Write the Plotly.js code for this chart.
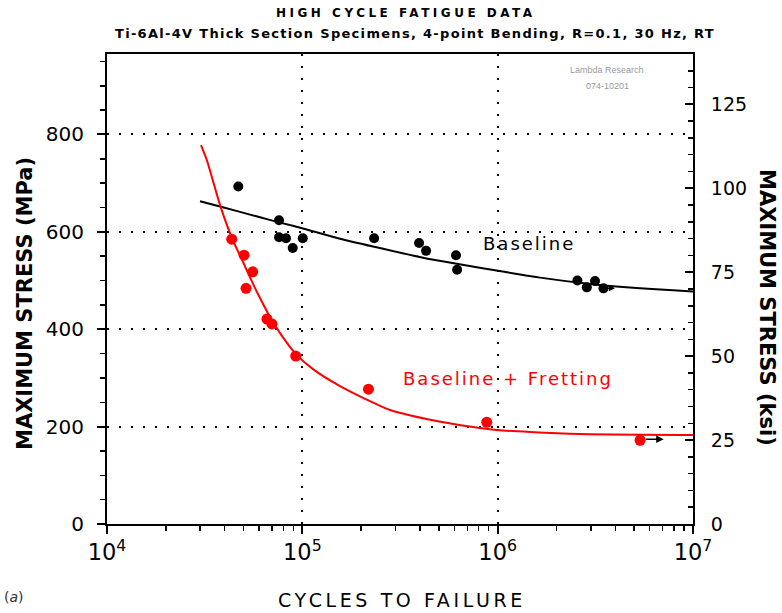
<!DOCTYPE html>
<html>
<head>
<meta charset="utf-8">
<script src="https://cdn.plot.ly/plotly-3.0.1.min.js"></script>
<style>
  body { margin: 0; padding: 0; background: #fff; }
  #chart { width: 782px; height: 613px; }
</style>
</head>
<body>
<div id="chart"></div>
<script>
// ---- Data ----
// Baseline specimens (cycles, max stress MPa)
const baselineCycles = [47000, 76000, 76000, 82500, 89300, 100500, 233000, 396000, 430000, 612000, 620000, 2560000, 2860000, 3150000, 3480000];
const baselineStress = [693, 624, 589, 587, 567, 587, 587, 577, 561, 552, 522, 500, 486, 499, 484];

// Baseline + Fretting specimens
const frettingCycles = [43500, 50300, 51500, 55700, 65900, 69900, 92500, 218000, 879000, 5360000];
const frettingStress = [585, 552, 484, 518, 421, 411, 345, 277, 209, 172];

// Fitted curves
const baselineFitCycles = [29940, 37900, 60730, 76880, 100800, 156000, 230100, 415000, 1005000, 1649000, 2973000, 5358000, 7909000, 10000000];
const baselineFitStress = [663, 652, 630, 619, 607, 586, 570, 547, 520, 506, 493, 484, 480, 477.5];

const frettingFitCycles = [30290, 32520, 37900, 43650, 49700, 55930, 60730, 68320, 76880, 91760, 113400, 156000, 209400, 281200, 450800, 748200, 993000, 1465000, 2642000, 10000000];
const frettingFitStress = [778, 746, 655, 587, 538, 493, 464, 425, 392, 351, 318, 283, 257, 234, 214, 199, 193, 189, 185, 183];

// Axis ranges / ticks
const xRangeExp = [4, 7];
const mpaMax = 965.27;      // 140 ksi
const ksiMax = 140;

const titleLine1 = 'HIGH CYCLE FATIGUE DATA';
const titleLine2 = 'Ti-6Al-4V Thick Section Specimens, 4-point Bending, R=0.1, 30 Hz, RT';

const traces = [
  {
    x: baselineFitCycles, y: baselineFitStress, mode: 'lines', type: 'scatter',
    line: { color: '#000000', width: 2, shape: 'spline', smoothing: 0.6 }, hoverinfo: 'skip'
  },
  {
    x: frettingFitCycles, y: frettingFitStress, mode: 'lines', type: 'scatter',
    line: { color: '#ff0000', width: 2, shape: 'spline', smoothing: 0.6 }, hoverinfo: 'skip'
  },
  {
    x: baselineCycles, y: baselineStress, mode: 'markers', type: 'scatter',
    marker: { color: '#000000', size: 10 }
  },
  {
    x: frettingCycles, y: frettingStress, mode: 'markers', type: 'scatter',
    marker: { color: '#ff0000', size: 11 }
  },
  // empty trace so the ksi axis is drawn
  { x: [], y: [], type: 'scatter', mode: 'markers', yaxis: 'y2', hoverinfo: 'skip' }
];

const tickFont = { family: 'DejaVu Sans, Arial, sans-serif', size: 20, color: '#000' };
const axisCommon = {
  showline: true, linewidth: 2, linecolor: '#000',
  ticks: 'outside', ticklen: 8, tickwidth: 2, tickcolor: '#000',
  tickfont: tickFont, zeroline: false
};

const ann = (o) => Object.assign({ xref: 'paper', yref: 'paper', xanchor: 'center', yanchor: 'middle', showarrow: false }, o);

const layout = {
  width: 782, height: 613,
  margin: { l: 107, r: 89, t: 54, b: 89, pad: 0 },
  paper_bgcolor: '#ffffff', plot_bgcolor: '#ffffff',
  showlegend: false,
  font: { family: 'Liberation Sans, Arial, sans-serif', color: '#000' },
  xaxis: Object.assign({}, axisCommon, {
    type: 'log', range: xRangeExp, dtick: 1, exponentformat: 'power',
    mirror: true,
    tickfont: { family: 'DejaVu Sans, Arial, sans-serif', size: 18, color: '#000' },
    showgrid: true, gridcolor: '#000', gridwidth: 2, griddash: '2px,10px',
    minor: { dtick: 'D1', ticks: 'outside', ticklen: 5, tickwidth: 1.5, tickcolor: '#000', showgrid: false }
  }),
  yaxis: Object.assign({}, axisCommon, {
    range: [0, mpaMax], dtick: 200, tick0: 0, ticklabelstandoff: 9,
    showgrid: true, gridcolor: '#000', gridwidth: 2, griddash: '2px,10px',
    minor: { dtick: 50, ticks: 'outside', ticklen: 5, tickwidth: 1.5, tickcolor: '#000', showgrid: false }
  }),
  yaxis2: Object.assign({}, axisCommon, {
    overlaying: 'y', side: 'right', range: [0, ksiMax], dtick: 25, tick0: 0,
    ticks: 'inside', ticklabelstandoff: 12,
    tickfont: { family: 'DejaVu Sans, Arial, sans-serif', size: 19, color: '#000' },
    showgrid: false,
    minor: { dtick: 5, ticks: 'inside', ticklen: 5, tickwidth: 1.5, tickcolor: '#000', showgrid: false }
  }),
  annotations: [
    ann({ text: '<span style="letter-spacing:3.5px">' + titleLine1 + '</span>', x: 0.51, y: (524 - 13) / 470,
      font: { family: 'DejaVu Sans, Arial', size: 12, weight: 'bold', color: '#000' } }),
    ann({ text: '<span style="letter-spacing:1.3px">' + titleLine2 + '</span>', x: 0.525, y: (524 - 34) / 470,
      font: { family: 'DejaVu Sans, Arial', size: 13, weight: 'bold', color: '#000' } }),
    ann({ text: 'Lambda Research', x: (607 - 107) / 586, y: (524 - 70) / 470,
      font: { family: 'Liberation Sans, Arial', size: 9, color: '#9a9a9a' } }),
    ann({ text: '074-10201', x: (607 - 107) / 586, y: (524 - 86) / 470,
      font: { family: 'Liberation Sans, Arial', size: 9, color: '#9a9a9a' } }),
    ann({ text: '<span style="letter-spacing:2px">Baseline</span>', xref: 'x', yref: 'y', x: 6.161, y: 577,
      font: { family: 'DejaVu Sans, Arial', size: 18, color: '#000' } }),
    ann({ text: '<span style="letter-spacing:2px">Baseline + Fretting</span>', xref: 'x', yref: 'y', x: 6.053, y: 298,
      font: { family: 'DejaVu Sans, Arial', size: 18, color: '#ff0000' } }),
    ann({ text: 'MAXIMUM STRESS (MPa)', x: (25 - 107) / 586, y: (524 - 304) / 470, textangle: -90,
      font: { family: 'DejaVu Sans, Arial', size: 21, weight: 'bold', color: '#000' } }),
    ann({ text: 'MAXIMUM STRESS (ksi)', x: (767 - 107) / 586, y: (524 - 307) / 470, textangle: 90,
      font: { family: 'DejaVu Sans, Arial', size: 21, weight: 'bold', color: '#000' } }),
    ann({ text: '<span style="letter-spacing:3.6px">CYCLES TO FAILURE</span>', x: (402 - 107) / 586, y: (524 - 600) / 470,
      font: { family: 'DejaVu Sans, Arial', size: 19, color: '#000' } }),
    ann({ text: '(<span style="font-style:italic">a</span>)', x: (14 - 107) / 586, y: (524 - 597) / 470,
      font: { family: 'DejaVu Sans, Arial', size: 14, color: '#333' } }),
    // run-out arrows
    { xref: 'x', yref: 'y', axref: 'x', ayref: 'y', x: 6.85, y: 174, ax: 6.75, ay: 174,
      showarrow: true, arrowhead: 2, arrowsize: 1, arrowwidth: 1.5, arrowcolor: '#000', text: '' },
    { xref: 'x', yref: 'y', axref: 'x', ayref: 'y', x: 6.60, y: 484, ax: 6.545, ay: 484,
      showarrow: true, arrowhead: 2, arrowsize: 0.8, arrowwidth: 1.5, arrowcolor: '#000', text: '' }
  ]
};

Plotly.newPlot('chart', traces, layout, { displayModeBar: false, staticPlot: true });
</script>
</body>
</html>
